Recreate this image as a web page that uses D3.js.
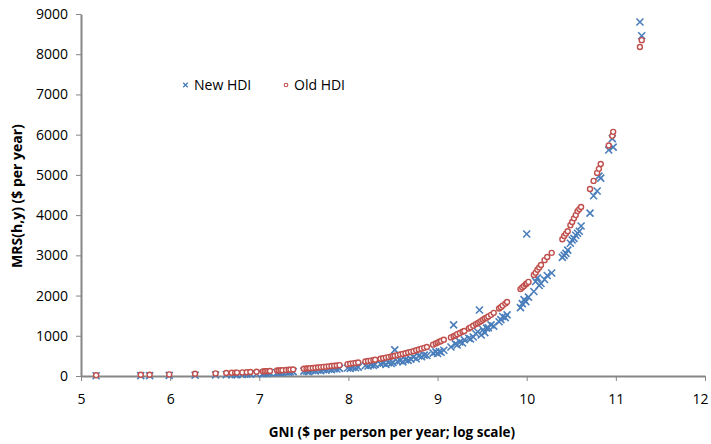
<!DOCTYPE html>
<html>
<head>
<meta charset="utf-8">
<script src="https://cdn.jsdelivr.net/npm/d3@7"></script>
<style>
  body { margin: 0; background: #fff; }
  svg { display: block; }
</style>
</head>
<body>
<svg id="chart" width="711" height="444"></svg>
<script>
// Log GNI per person (one entry per country)
const lnGni = [
  5.17, 5.67, 5.77, 5.99, 6.28, 6.51, 6.63, 6.69, 6.73, 6.75, 6.81, 6.86, 6.90, 6.97,
  7.04, 7.06, 7.08, 7.10, 7.12, 7.20, 7.22, 7.24, 7.26, 7.30, 7.33, 7.35, 7.38, 7.50,
  7.53, 7.55, 7.57, 7.60, 7.63, 7.66, 7.69, 7.72, 7.75, 7.78, 7.81, 7.84, 7.87, 7.90,
  7.99, 8.02, 8.05, 8.08, 8.11, 8.19, 8.22, 8.25, 8.28, 8.30, 8.36, 8.39, 8.42, 8.45,
  8.48, 8.50, 8.52, 8.55, 8.58, 8.61, 8.64, 8.67, 8.70,
  8.73, 8.76, 8.79, 8.82, 8.85, 8.88, 8.95, 8.98, 9.00, 9.02, 9.04, 9.07,
  9.15, 9.18, 9.20, 9.22, 9.25, 9.28, 9.30, 9.35, 9.37, 9.40,
  9.43, 9.45, 9.47, 9.49, 9.51, 9.53, 9.55, 9.57, 9.60, 9.63, 9.69, 9.71, 9.73, 9.76, 9.78,
  9.93, 9.95, 9.97, 9.99, 10.00, 10.02, 10.08, 10.10, 10.12, 10.14, 10.16, 10.20, 10.23, 10.28,
  10.40, 10.42, 10.44, 10.46, 10.49, 10.51, 10.53, 10.55, 10.57, 10.59, 10.61,
  10.71, 10.75, 10.79, 10.81, 10.83, 10.92, 10.96, 10.97, 11.27, 11.29
];

// MRS(h,y) implied by the new HDI ($ per year)
const mrsNew = [
  5, 10, 10, 15, 20, 25, 30, 30, 35, 35, 40, 45, 45, 50,
  60, 70, 65, 75, 80, 85, 90, 80, 95, 100, 95, 105, 110, 120,
  125, 110, 130, 140, 130, 150, 135, 160, 150, 170, 160, 180, 175, 190,
  200, 190, 215, 205, 220, 260, 250, 275, 265, 285, 300, 320, 290, 330,
  310, 340, 650, 360, 380, 350, 400, 390, 420,
  470, 430, 500, 480, 520, 510, 570, 600, 560, 610, 590, 640,
  720, 1270, 800, 770, 850, 820, 900, 940, 920, 970,
  1050, 1100, 1640, 1020, 1150, 1080, 1190, 1200, 1270, 1240, 1350, 1400, 1480, 1450, 1520,
  1700, 1800, 1900, 1850, 3530, 1960, 2100, 2350, 2440, 2250, 2300, 2400, 2500, 2560,
  2950, 3000, 3050, 3130, 3300, 3380, 3420, 3500, 3550, 3600, 3730,
  4050, 4480, 4600, 4970, 4920, 5620, 5900, 5690, 8800, 8460
];

// MRS(h,y) implied by the old HDI ($ per year)
const mrsOld = [
  20, 30, 30, 40, 55, 65, 75, 80, 85, 85, 90, 95, 100, 105,
  115, 118, 120, 122, 125, 135, 138, 140, 143, 150, 155, 158, 162, 180,
  186, 190, 195, 200, 206, 212, 220, 226, 232, 240, 247, 255, 262, 270,
  295, 305, 315, 325, 335, 360, 372, 383, 395, 405, 430, 443, 457, 470,
  485, 495, 505, 520, 535, 550, 565, 585, 600,
  615, 640, 660, 680, 700, 720, 780, 810, 830, 850, 870, 900,
  960, 990, 1010, 1040, 1070, 1100, 1120, 1180, 1210, 1250,
  1290, 1310, 1340, 1370, 1400, 1430, 1450, 1480, 1520, 1570, 1680, 1710, 1750, 1800, 1840,
  2160, 2200, 2240, 2280, 2300, 2340, 2510, 2570, 2640, 2700, 2760, 2880, 2960, 3060,
  3400, 3480, 3540, 3600, 3750, 3830, 3920, 4000, 4100, 4150, 4200,
  4650, 4850, 5050, 5150, 5270, 5730, 5970, 6070, 8180, 8350
];

const xTicks = [5, 6, 7, 8, 9, 10, 11, 12];
const yTicks = [0, 1000, 2000, 3000, 4000, 5000, 6000, 7000, 8000, 9000];
const seriesNames = ["New HDI", "Old HDI"];
const xTitle = "GNI ($ per person per year; log scale)";
const yTitle = "MRS(h,y) ($ per year)";

const FONT = "'Open Sans', 'DejaVu Sans', sans-serif";
const AXIS_GREY = "#868686";
const BLUE = "#4a7ebb";
const RED = "#c0504d";

const svg = d3.select("#chart");
const plot = { left: 81, right: 705, top: 14, bottom: 376 };

const x = d3.scaleLinear().domain([5, 12]).range([plot.left, plot.right]);
const y = d3.scaleLinear().domain([0, 9000]).range([plot.bottom, plot.top]);

// Axes
const xAxis = svg.append("g")
  .attr("transform", `translate(0,${plot.bottom})`)
  .call(d3.axisBottom(x).tickValues(xTicks).tickFormat(d3.format("d"))
    .tickSize(5).tickSizeOuter(0).tickPadding(13));

const yAxis = svg.append("g")
  .attr("transform", `translate(${plot.left},0)`)
  .call(d3.axisLeft(y).tickValues(yTicks).tickFormat(d3.format("d"))
    .tickSize(5).tickSizeOuter(0).tickPadding(8));

[xAxis, yAxis].forEach(g => {
  g.select(".domain").attr("stroke", AXIS_GREY).attr("stroke-width", 2);
  g.selectAll(".tick line").attr("stroke", AXIS_GREY).attr("stroke-width", 1);
  g.selectAll(".tick text")
    .attr("fill", "#000")
    .style("font-family", FONT)
    .style("font-size", "14px");
});

// keep the last x label inside the canvas
xAxis.selectAll(".tick text").filter(d => d === 12).attr("text-anchor", "end").attr("dx", 3);

// Axis titles
svg.append("text")
  .attr("x", 392).attr("y", 437)
  .attr("text-anchor", "middle")
  .style("font-family", FONT).style("font-size", "13.5px").style("font-weight", "bold")
  .text(xTitle);

svg.append("text")
  .attr("transform", "translate(22,196) rotate(-90)")
  .attr("text-anchor", "middle")
  .style("font-family", FONT).style("font-size", "14px").style("font-weight", "bold")
  .text(yTitle);

// Marker helpers
function crossPath(cx, cy, r) {
  return `M${cx - r},${cy - r}L${cx + r},${cy + r}M${cx - r},${cy + r}L${cx + r},${cy - r}`;
}

const points = lnGni.map((g, i) => ({ g, n: mrsNew[i], o: mrsOld[i] }));

// New HDI: blue crosses
svg.append("g").selectAll("path")
  .data(points)
  .join("path")
  .attr("d", d => crossPath(x(d.g), y(d.n), 3.5))
  .attr("stroke", BLUE)
  .attr("stroke-width", 1.6)
  .attr("fill", "none");

// Old HDI: open red circles on top
svg.append("g").selectAll("circle")
  .data(points)
  .join("circle")
  .attr("cx", d => x(d.g))
  .attr("cy", d => y(d.o))
  .attr("r", 2.5)
  .attr("stroke", RED)
  .attr("stroke-width", 1.4)
  .attr("fill", "#fff");

// Legend
const legend = svg.append("g");
legend.append("path")
  .attr("d", crossPath(185.5, 85, 2.3))
  .attr("stroke", BLUE).attr("stroke-width", 1.3).attr("fill", "none");
legend.append("text")
  .attr("x", 194).attr("y", 90)
  .style("font-family", FONT).style("font-size", "14px")
  .text(seriesNames[0]);
legend.append("circle")
  .attr("cx", 286).attr("cy", 85).attr("r", 1.8)
  .attr("stroke", RED).attr("stroke-width", 1.1).attr("fill", "#fff");
legend.append("text")
  .attr("x", 294).attr("y", 90)
  .style("font-family", FONT).style("font-size", "14px")
  .text(seriesNames[1]);
</script>
</body>
</html>
